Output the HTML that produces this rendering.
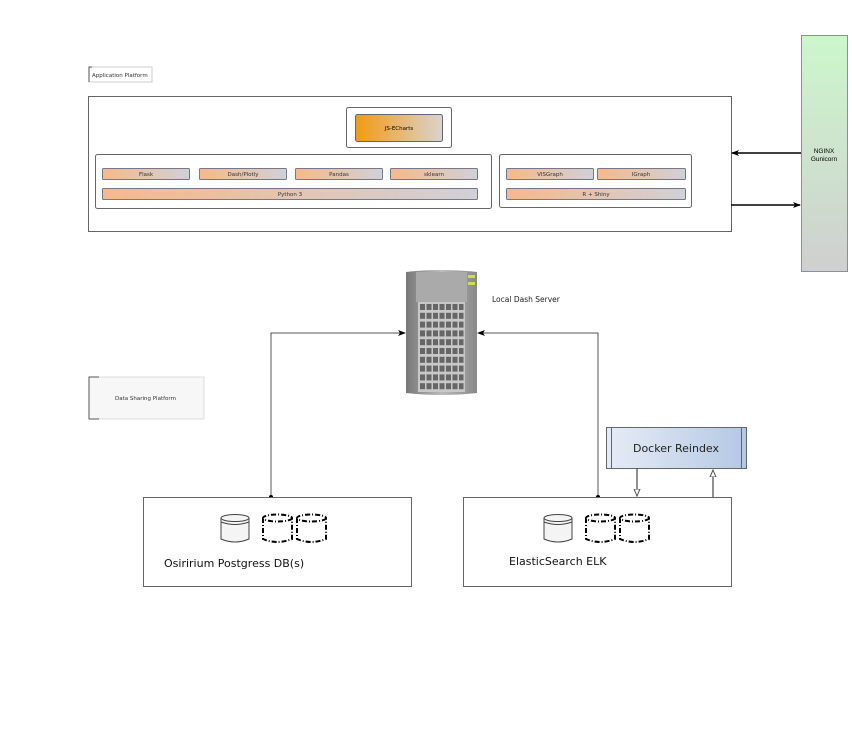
<!DOCTYPE html>
<html><head><style>body{margin:0;background:#fff}svg{display:block;font-family:"DejaVu Sans","Liberation Sans",sans-serif}</style></head><body>
<svg width="852" height="750" viewBox="0 0 852 750" xmlns="http://www.w3.org/2000/svg">
<defs>
<linearGradient id="or" x1="0" x2="1"><stop offset="0" stop-color="#f7b98a"/><stop offset="1" stop-color="#d0d0d8"/></linearGradient>
<linearGradient id="js" x1="0" x2="1"><stop offset="0" stop-color="#f39a10"/><stop offset="1" stop-color="#d8d4d0"/></linearGradient>
<linearGradient id="ng" x1="0" y1="0" x2="0" y2="1"><stop offset="0" stop-color="#ccf7cc"/><stop offset="1" stop-color="#cfcfcf"/></linearGradient>
<linearGradient id="dk" x1="0" x2="1"><stop offset="0" stop-color="#e6ecf6"/><stop offset="1" stop-color="#b4c8e4"/></linearGradient>
<linearGradient id="sv" x1="0" x2="1"><stop offset="0" stop-color="#777"/><stop offset="0.5" stop-color="#bbb"/><stop offset="1" stop-color="#888"/></linearGradient>
<marker id="fa" markerUnits="userSpaceOnUse" markerWidth="8" markerHeight="6" refX="7" refY="3" orient="auto"><path d="M0,0 L8,3 L0,6 L2,3 z" fill="#000"/></marker>
<marker id="oa" markerUnits="userSpaceOnUse" markerWidth="8" markerHeight="8" refX="7" refY="4" orient="auto"><path d="M0,1 L7,4 L0,7 z" fill="#fff" stroke="#555"/></marker>
</defs>
<path d="M89,82 V67 H152 V82 Z" fill="#fff" stroke="#ccc"/><path d="M92,67 H89 V82" fill="none" stroke="#555"/>
<text x="92" y="77" font-size="5.5" fill="#333">Application Platform</text>
<rect x="89" y="377" width="115" height="42" fill="#f7f7f7" stroke="#ddd"/><path d="M99,377 H89 V419 H99" fill="none" stroke="#555"/>
<text x="115" y="400" font-size="5.5" fill="#333">Data Sharing Platform</text>
<rect x="88.5" y="96.5" width="643" height="135" fill="#fff" stroke="#666"/>
<rect x="346.5" y="107.5" width="105" height="40" rx="2" fill="#fff" stroke="#666"/>
<rect x="355.5" y="114.5" width="87" height="27" rx="2" fill="url(#js)" stroke="#667"/>
<text x="399" y="130" font-size="5.5" text-anchor="middle">JS-ECharts</text>
<rect x="95.5" y="154.5" width="396" height="54" rx="2" fill="#fff" stroke="#666"/>
<rect x="499.5" y="154.5" width="192" height="53" rx="2" fill="#fff" stroke="#666"/>
<g font-size="5.5" text-anchor="middle" fill="#333">
<rect x="102.5" y="168.5" width="87" height="11" rx="1" fill="url(#or)" stroke="#778"/><text x="146" y="176">Flask</text>
<rect x="199.5" y="168.5" width="87" height="11" rx="1" fill="url(#or)" stroke="#778"/><text x="243" y="176">Dash/Plotly</text>
<rect x="295.5" y="168.5" width="87" height="11" rx="1" fill="url(#or)" stroke="#778"/><text x="339" y="176">Pandas</text>
<rect x="390.5" y="168.5" width="87" height="11" rx="1" fill="url(#or)" stroke="#778"/><text x="434" y="176">sklearn</text>
<rect x="102.5" y="188.5" width="375" height="11" rx="1" fill="url(#or)" stroke="#778"/><text x="290" y="196">Python 3</text>
<rect x="506.5" y="168.5" width="87" height="11" rx="1" fill="url(#or)" stroke="#778"/><text x="550" y="176">VISGraph</text>
<rect x="597.5" y="168.5" width="88" height="11" rx="1" fill="url(#or)" stroke="#778"/><text x="641" y="176">IGraph</text>
<rect x="506.5" y="188.5" width="179" height="11" rx="1" fill="url(#or)" stroke="#778"/><text x="596" y="196">R + Shiny</text>
</g>
<rect x="801.5" y="35.5" width="46" height="236" fill="url(#ng)" stroke="#8090b0"/>
<text x="824" y="153" font-size="6.5" text-anchor="middle" font-family="Liberation Sans">NGINX</text>
<text x="824" y="161" font-size="6.5" text-anchor="middle" font-family="Liberation Sans">Gunicorn</text>
<line x1="801" y1="153" x2="732" y2="153" stroke="#000" stroke-width="1.5" marker-end="url(#fa)"/>
<line x1="731" y1="205" x2="800" y2="205" stroke="#000" stroke-width="1.5" marker-end="url(#fa)"/>
<path d="M406,272 Q441,268 477,272 V393 Q441,397 406,393 Z" fill="url(#sv)"/>
<rect x="416" y="272" width="51" height="30" fill="#aaa"/>
<rect x="468" y="275" width="7" height="3" fill="#cde040"/><rect x="468" y="282" width="7" height="3" fill="#cde040"/>
<rect x="418" y="302" width="47" height="90" fill="#c8c8c8"/>
<g fill="#666" id="row">
<rect x="420" y="304" width="5" height="6"/><rect x="426.5" y="304" width="5" height="6"/><rect x="433" y="304" width="5" height="6"/><rect x="439.5" y="304" width="5" height="6"/><rect x="446" y="304" width="5" height="6"/><rect x="452.5" y="304" width="5" height="6"/><rect x="459" y="304" width="4.5" height="6"/>
</g>
<use href="#row" y="8.8"/><use href="#row" y="17.6"/><use href="#row" y="26.4"/><use href="#row" y="35.2"/><use href="#row" y="44"/><use href="#row" y="52.8"/><use href="#row" y="61.6"/><use href="#row" y="70.4"/><use href="#row" y="79.2"/>
<text x="492" y="302" font-size="7.5" fill="#222">Local Dash Server</text>
<path d="M271,497 V333 H405" fill="none" stroke="#555" marker-end="url(#fa)"/>
<path d="M598,497 V333 H478" fill="none" stroke="#555" marker-end="url(#fa)"/>
<circle cx="271" cy="497" r="2" fill="#000"/><circle cx="598" cy="497" r="2" fill="#000"/>
<rect x="606.5" y="427.5" width="140" height="41" fill="url(#dk)" stroke="#666"/>
<line x1="611.5" y1="428" x2="611.5" y2="468" stroke="#666"/><line x1="741.5" y1="428" x2="741.5" y2="468" stroke="#666"/>
<text x="676" y="452" font-size="11" text-anchor="middle" fill="#222">Docker Reindex</text>
<line x1="637" y1="468" x2="637" y2="496" stroke="#555" stroke-width="1.3" marker-end="url(#oa)"/>
<line x1="713" y1="497" x2="713" y2="470" stroke="#555" stroke-width="1.3" marker-end="url(#oa)"/>
<rect x="143.5" y="497.5" width="268" height="89" fill="#fff" stroke="#666"/>
<rect x="463.5" y="497.5" width="268" height="89" fill="#fff" stroke="#666"/>
<text x="164" y="567" font-size="11" fill="#111">Osiririum Postgress DB(s)</text>
<text x="509" y="565" font-size="11" fill="#111">ElasticSearch ELK</text>
<g id="c1">
<path d="M221,518 V539 Q235,545 249,539 V518" fill="#f4f4f4" stroke="#444"/>
<ellipse cx="235" cy="518" rx="14" ry="3.5" fill="#f4f4f4" stroke="#444"/>
<path d="M221,522 Q235,527 249,522" fill="none" stroke="#444"/>
</g>
<g fill="#fff" stroke="#000" stroke-width="2" stroke-dasharray="5,2,1,2">
<path d="M263,518 V539 Q277,545 292,539 V518"/><ellipse cx="277.5" cy="518" rx="14.5" ry="3.5"/>
<path d="M297,518 V539 Q311,545 326,539 V518"/><ellipse cx="311.5" cy="518" rx="14.5" ry="3.5"/>
<path d="M586,518 V539 Q600,545 615,539 V518"/><ellipse cx="600.5" cy="518" rx="14.5" ry="3.5"/>
<path d="M620,518 V539 Q634,545 649,539 V518"/><ellipse cx="634.5" cy="518" rx="14.5" ry="3.5"/>
</g>
<use href="#c1" x="323"/>
</svg>
</body></html>
